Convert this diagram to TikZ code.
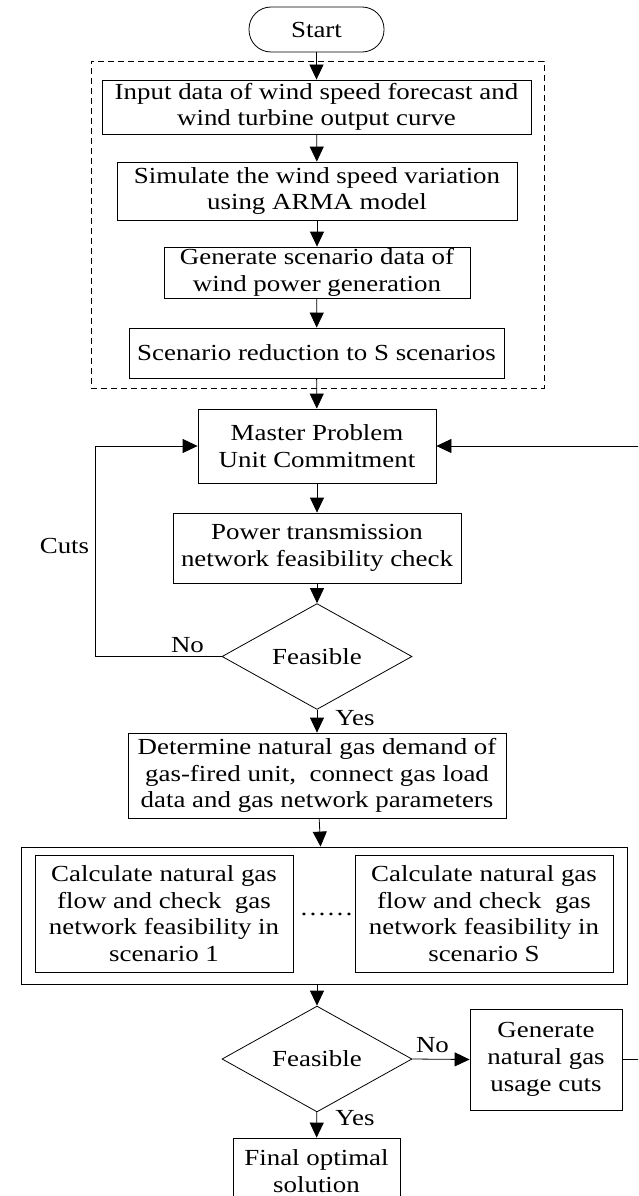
\documentclass[tikz,border=0pt]{standalone}
\usepackage{fontspec}
\setmainfont{Liberation Serif}[FakeStretch=1.17]
\usetikzlibrary{arrows.meta,shapes.geometric}
\begin{document}
\begin{tikzpicture}[x=1pt,y=-1pt,
  font=\fontsize{23pt}{26.7pt}\selectfont,
  every node/.style={inner sep=0pt, align=center},
  proc/.style={draw, line width=0.8pt, rectangle},
  decide/.style={draw, line width=0.8pt, diamond, minimum width=190pt, minimum height=94pt},
  group/.style={draw, line width=0.8pt, dash pattern=on 6pt off 4pt},
  flow/.style={line width=0.8pt, -{Triangle[length=15pt,width=14pt]}},
  plain/.style={line width=0.8pt}]
\useasboundingbox (0,0) rectangle (638,1196);
\clip (0,0) rectangle (638,1196);

% wind scenario generation stage
\node[proc, rounded corners=22pt, minimum width=135pt, minimum height=45pt] (start) at (316.5,29.5) {Start};
\node[group, minimum width=453pt, minimum height=327pt] (wind) at (317.5,224.5) {};
\node[proc, minimum width=429pt, minimum height=54pt] (input) at (316.5,107) {Input data of wind speed forecast and\\wind turbine output curve};
\node[proc, minimum width=400pt, minimum height=58pt] (arma) at (317,191) {Simulate the wind speed variation\\using ARMA model};
\node[proc, minimum width=306pt, minimum height=51pt] (gen) at (317,272.5) {Generate scenario data of\\wind power generation};
\node[proc, minimum width=375pt, minimum height=50pt] (reduce) at (316.5,353) {Scenario reduction to S scenarios};

% master problem and power network check
\node[proc, minimum width=238pt, minimum height=74pt] (master) at (317,446) {Master Problem\\Unit Commitment};
\node[proc, minimum width=288pt, minimum height=70pt] (power) at (317,548) {Power transmission\\network feasibility check};
\node[decide] (feas1) at (317,656.5) {Feasible};

% gas network subproblems
\node[proc, minimum width=378pt, minimum height=85pt] (demand) at (317,775.5) {Determine natural gas demand of\\gas-fired unit,\ \ connect gas load\\data and gas network parameters};
\node[proc, minimum width=606pt, minimum height=137pt] (sub) at (324,915.5) {};
\node[proc, minimum width=258pt, minimum height=117pt] (scen1) at (164,913.5) {Calculate natural gas\\flow and check\ \ gas\\network feasibility in\\scenario 1};
\node[proc, minimum width=258pt, minimum height=117pt] (scenS) at (484,913.5) {Calculate natural gas\\flow and check\ \ gas\\network feasibility in\\scenario S};
\node (dots) at (326.5,914) {……};
\node[decide, minimum height=92pt] (feas2) at (317,1059) {Feasible};
\node[proc, minimum width=152pt, minimum height=101pt] (cuts) at (546,1059.5) {Generate\\natural gas\\usage cuts};
\node[proc, minimum width=167pt, minimum height=66pt] (final) at (316.5,1171) {Final optimal\\solution};

% labels
\node (lcuts) at (64.5,546) {Cuts};
\node (lno1) at (187.5,645) {No};
\node (lyes1) at (355,718) {Yes};
\node (lno2) at (432.5,1045.5) {No};
\node (lyes2) at (355,1118.5) {Yes};

% connectors
\coordinate (loopL) at (95,656.5);
\coordinate (loopR) at (660,1059.5);
\draw[flow] (start) -- (input);
\draw[flow] (input) -- (arma);
\draw[flow] (arma) -- (gen);
\draw[flow] (gen) -- (reduce);
\draw[flow] (reduce) -- (master);
\draw[flow] (master) -- (power);
\draw[flow] (power) -- (feas1);
\draw[flow] (feas1.west) -- (loopL) |- (master.west);
\draw[flow] (feas1) -- (demand);
\draw[flow] (demand) -- (sub);
\draw[flow] (sub.south -| feas2.north) -- (feas2.north);
\draw[flow] (feas2.east) -- (cuts.west);
\draw[flow] (feas2) -- (final);
\draw[flow] (cuts.east) -- (loopR) |- (master.east);
\end{tikzpicture}
\end{document}
